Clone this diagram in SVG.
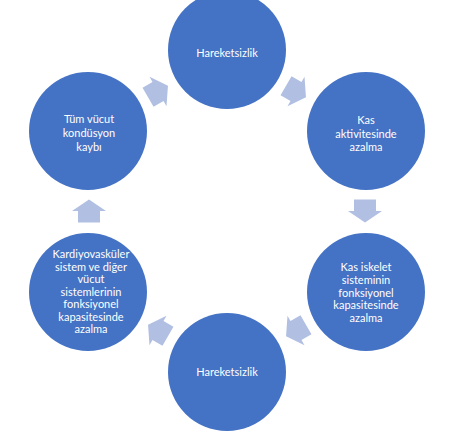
<svg xmlns="http://www.w3.org/2000/svg" xmlns:xlink="http://www.w3.org/1999/xlink" width="470" height="433" viewBox="0 0 470 433">
<style>
.node{fill:#4472C4}
.lbl{fill:#FFFFFF;font-family:Lato,"Liberation Sans",sans-serif;font-size:11px;text-anchor:middle}
.arrow{fill:#B0BFE2}
</style>
<defs>
<path id="arr" d="M-11.5,-11 L0,-11 L0,-17 L11.5,0 L0,17 L0,11 L-11.5,11 Z"/>
</defs>
<rect width="470" height="433" fill="#FFFFFF"/>
<g id="connectors" class="arrow">
<use xlink:href="#arr" transform="translate(296,91.5) rotate(30)"/>
<use xlink:href="#arr" transform="translate(365,211) rotate(90)"/>
<use xlink:href="#arr" transform="translate(296,330.5) rotate(150)"/>
<use xlink:href="#arr" transform="translate(158,330.5) rotate(210)"/>
<use xlink:href="#arr" transform="translate(89,211) rotate(270)"/>
<use xlink:href="#arr" transform="translate(158,91.5) rotate(330)"/>
</g>
<g id="n1"><circle class="node" cx="227" cy="50" r="59"/><text class="lbl" x="227" y="57">Hareketsizlik</text></g>
<g id="n2"><circle class="node" cx="366" cy="131" r="59"/><text class="lbl" x="366" y="124">Kas</text><text class="lbl" x="366" y="137.5">aktivitesinde</text><text class="lbl" x="366" y="151">azalma</text></g>
<g id="n3"><circle class="node" cx="366" cy="292" r="59"/><text class="lbl" x="366" y="271">Kas iskelet</text><text class="lbl" x="366" y="283.8">sisteminin</text><text class="lbl" x="366" y="296.6">fonksiyonel</text><text class="lbl" x="366" y="309.4">kapasitesinde</text><text class="lbl" x="366" y="322.2">azalma</text></g>
<g id="n4"><circle class="node" cx="227" cy="372" r="59"/><text class="lbl" x="227" y="376">Hareketsizlik</text></g>
<g id="n5"><circle class="node" cx="88" cy="292" r="59"/><text class="lbl" x="91" y="258">Kardiyovasküler</text><text class="lbl" x="91" y="270.5">sistem ve diğer</text><text class="lbl" x="91" y="283">vücut</text><text class="lbl" x="91" y="295.5">sistemlerinin</text><text class="lbl" x="91" y="308">fonksiyonel</text><text class="lbl" x="91" y="320.5">kapasitesinde</text><text class="lbl" x="91" y="333">azalma</text></g>
<g id="n6"><circle class="node" cx="88" cy="131" r="59"/><text class="lbl" x="89" y="123">Tüm vücut</text><text class="lbl" x="89" y="137">kondüsyon</text><text class="lbl" x="89" y="151">kaybı</text></g>
</svg>
